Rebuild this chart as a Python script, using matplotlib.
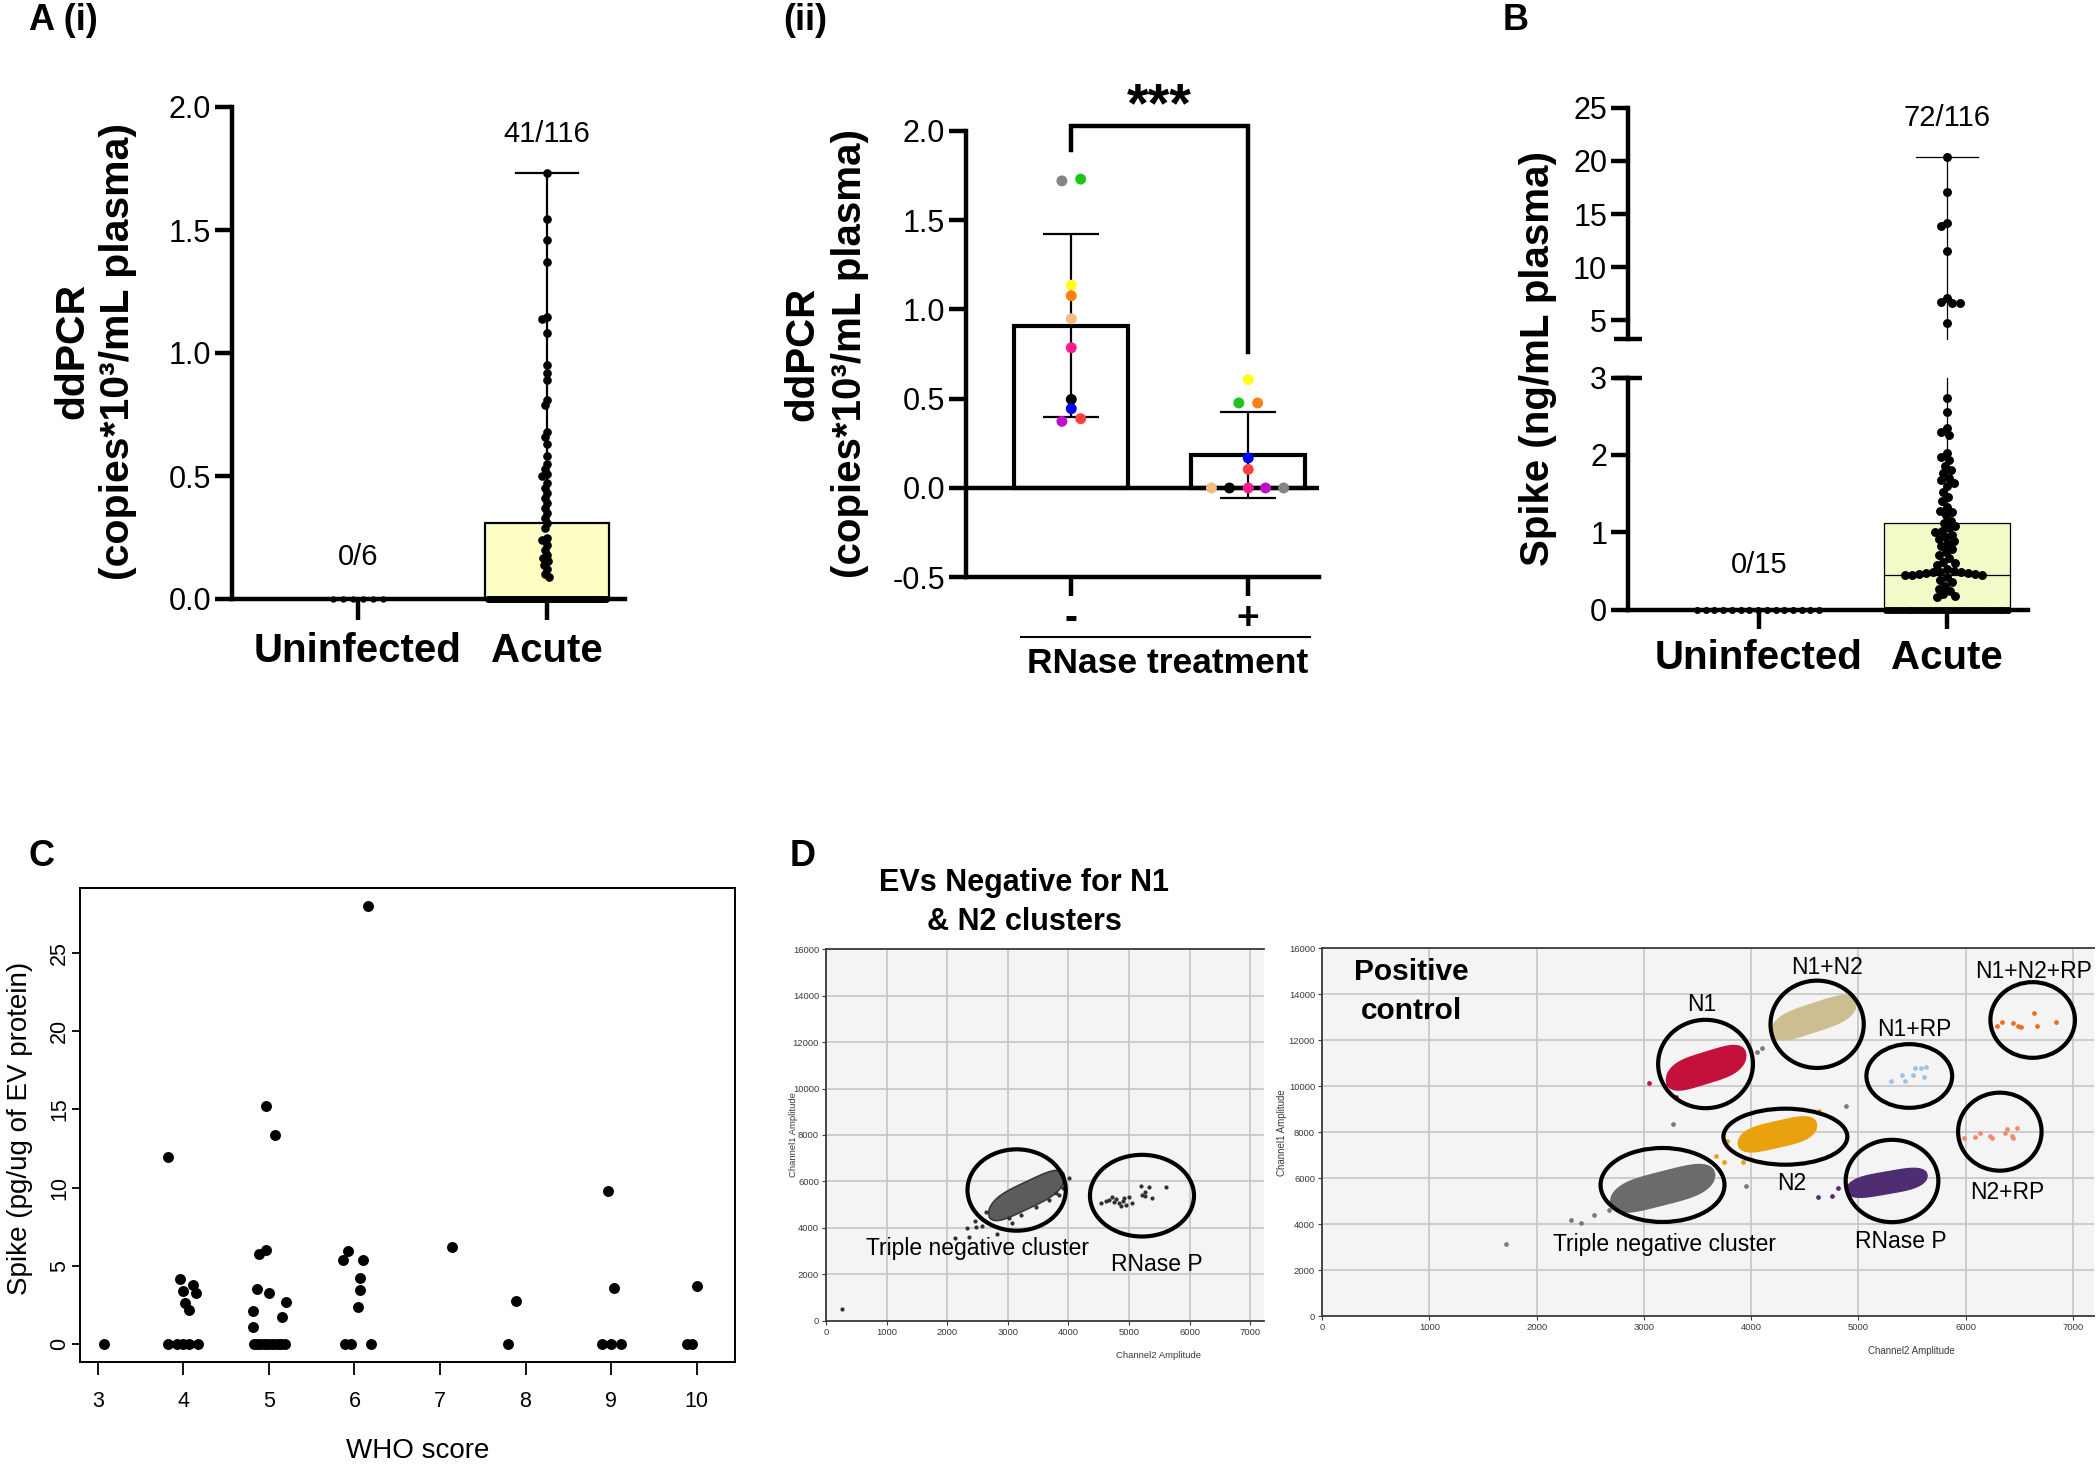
import numpy as np
import matplotlib
matplotlib.use("Agg")
import matplotlib.pyplot as plt
from matplotlib.patches import Ellipse, Polygon
from matplotlib import font_manager as fm

# ======================= DATA =======================
# ---- Panel A(i): ddPCR in plasma ----
ai_categories = ["Uninfected", "Acute"]
ai_uninfected = [0, 0, 0, 0, 0, 0]
ai_acute_nonzero = [1.73, 1.545, 1.46, 1.37, 1.145, 1.14, 1.08, 0.95, 0.92, 0.89,
                    0.81, 0.79, 0.68, 0.66, 0.63, 0.58, 0.55, 0.53, 0.51, 0.50,
                    0.47, 0.45, 0.43, 0.41, 0.39, 0.37, 0.35, 0.33, 0.31, 0.29,
                    0.25, 0.24, 0.22, 0.20, 0.18, 0.165, 0.155, 0.14, 0.12, 0.10, 0.09]
ai_acute_zero = [0] * 75
ai_box_q3 = 0.31
ai_whisker_top = 1.73
ai_counts = ["0/6", "41/116"]
ai_count_y = [0.171, 1.889]
ai_yticks = [0.0, 0.5, 1.0, 1.5, 2.0]

# ---- Panel A(ii): RNase treatment ----
aii_ticklabels = ["-", "+"]
aii_donor_colors = ["#858585", "#1DC41D", "#FFFF1A", "#FF7F10", "#F3BC86",
                    "#FF1C8C", "#000000", "#0000FF", "#C010C8", "#FF4040"]
aii_without_rnase = [1.719, 1.729, 1.135, 1.076, 0.947, 0.785, 0.496, 0.444, 0.373, 0.388]
aii_with_rnase = [0.0, 0.476, 0.607, 0.476, 0.0, 0.0, 0.0, 0.168, 0.0, 0.104]
aii_bracket_y = [1.89, 2.025, 2.025, 0.76]
aii_significance = "***"
aii_yticks = [-0.5, 0.0, 0.5, 1.0, 1.5, 2.0]

# ---- Panel B: Spike in plasma ----
b_categories = ["Uninfected", "Acute"]
b_uninfected = [0] * 15
b_acute_nonzero = [20.4, 17.1, 14.2, 13.9, 11.5, 7.1, 6.7, 6.65, 6.6, 4.8,
                   2.73, 2.56, 2.35, 2.30, 2.26, 2.02, 1.97, 1.93, 1.85, 1.80,
                   1.76, 1.70, 1.67, 1.64, 1.60, 1.52, 1.45, 1.40, 1.32, 1.28,
                   1.26, 1.22, 1.15, 1.12, 1.08, 1.05, 1.02, 1.00, 0.97, 0.94,
                   0.91, 0.88, 0.85, 0.82, 0.78, 0.74, 0.70, 0.66, 0.62, 0.60,
                   0.57, 0.53, 0.50, 0.49, 0.48, 0.48, 0.47, 0.47, 0.46, 0.46,
                   0.45, 0.45, 0.44, 0.42, 0.38, 0.35, 0.31, 0.27, 0.24, 0.20,
                   0.18, 0.16]
b_acute_zero = [0] * 44
b_box_median = 0.45
b_box_q3 = 1.12
b_whisker_top = 20.4
b_counts = ["0/15", "72/116"]
b_break = [3.0, 3.27]
b_yticks_low = [0, 1, 2, 3]
b_yticks_high = [5, 10, 15, 20, 25]

# ---- Panel C: Spike vs WHO score ----
c_who = [3.07, 3.82, 3.96, 3.99, 4.11, 4.15, 4.02, 4.06, 3.82, 3.92, 4.00, 4.07, 4.17,
         4.97, 5.07, 4.97, 4.88, 4.86, 5.00, 5.20, 4.81, 5.15, 4.81,
         4.82, 4.86, 4.90, 4.94, 4.98, 5.02, 5.06, 5.10, 5.14, 5.19,
         6.16, 5.92, 5.86, 6.10, 6.06, 6.06, 6.04, 5.89, 5.96, 6.19,
         7.14, 7.89, 7.80, 8.97, 9.03, 8.89, 9.00, 9.12, 10.01, 9.89, 9.95]
c_spike = [0, 11.99, 4.15, 3.43, 3.76, 3.25, 2.65, 2.21, 0, 0, 0, 0, 0,
           15.24, 13.37, 6.05, 5.76, 3.50, 3.30, 2.73, 2.15, 1.74, 1.12,
           0, 0, 0, 0, 0, 0, 0, 0, 0, 0,
           27.96, 5.97, 5.40, 5.37, 4.23, 3.45, 2.39, 0, 0, 0,
           6.23, 2.78, 0, 9.79, 3.58, 0, 0, 0, 3.69, 0, 0]
c_xticks = [3, 4, 5, 6, 7, 8, 9, 10]
c_yticks = [0, 5, 10, 15, 20, 25]

# ---- Panel D (left): EVs negative ----
dl_gate_labels = ["Triple negative cluster", "RNase P"]
dl_gate_cx = [3145, 5213]
dl_gate_cy = [5630, 5386]
dl_gate_w = [1622, 1716]
dl_gate_h = [3505, 3519]
dl_label_x = [2502, 5460]
dl_label_y = [3117, 2427]
dl_cluster_ends = [(2680, 4620, 3940, 6170)]
dl_cluster_half = [600]
dl_cluster_colors = ["#5C5C5C"]
dl_drop_x = [264, 2128, 2321, 2365, 2464, 2574, 2815, 2640, 2475, 4014, 3904, 3068,
             3849, 3794, 3024, 3217, 3464, 3684,
             4537, 4619, 4674, 4718, 4784, 4839, 4867, 4894, 4922, 5004, 5048, 5197,
             5213, 5268, 5323, 5268, 5378, 5609, 4757, 4949]
dl_drop_y = [488, 3548, 3979, 3619, 4309, 4079, 3734, 4697, 4050, 6133, 5702, 4194,
             5415, 5487, 4409, 4553, 4912, 5199,
             5056, 5156, 5199, 5314, 5228, 5056, 4941, 5171, 5300, 5343, 5056, 5803,
             5415, 5559, 5745, 5372, 5271, 5745, 5128, 4984]

# ---- Panel D (right): positive control ----
dr_gate_labels = ["N1", "N1+N2", "N1+RP", "N1+N2+RP", "N2", "N2+RP", "RNase P",
                  "Triple negative cluster"]
dr_gate_cx = [3575, 4615, 5474, 6624, 4319, 6318, 5313, 3174]
dr_gate_cy = [10966, 12693, 10444, 12881, 7803, 8021, 5875, 5701]
dr_gate_w = [884, 869, 799, 788, 1155, 778, 864, 1155]
dr_gate_h = [3844, 3800, 2771, 3293, 2437, 3394, 3583, 3220]
dr_label_x = [3540, 4705, 5524, 6628, 4379, 6387, 5398, 3189]
dr_label_y = [13534, 15158, 12446, 14985, 5773, 5367, 3235, 3090]
dr_cluster_ends = [(2690, 4980, 3660, 6130), (3210, 10270, 3950, 11330),
                   (4190, 12380, 4980, 13580), (3880, 7520, 4610, 8290),
                   (4890, 5490, 5640, 6100)]
dr_cluster_half = [720, 680, 620, 560, 470]
dr_cluster_colors = ["#6B6B6B", "#C3113C", "#CDBE92", "#E9A20E", "#4F2D73"]
dr_drop_groups = [
    ("#7A7A7A", [1718, 2320, 2412, 2533, 2674, 3274, 3952, 4103, 4053, 4882],
                [3133, 4177, 4061, 4394, 4612, 8358, 5636, 11652, 11507, 9135]),
    ("#E9A20E", [4631, 3675, 3750, 3926, 3775], [8938, 6962, 6716, 6716, 7603]),
    ("#4F2D73", [4621, 4757, 4807, 5610], [5163, 5221, 5554, 5989]),
    ("#C3113C", [3048, 3199, 3299], [10153, 10008, 9545]),
    ("#9DC3E6", [5308, 5408, 5433, 5509, 5584, 5609, 5634, 5524],
                [10241, 10488, 10227, 10488, 10778, 10415, 10851, 10807]),
    ("#F26B21", [6287, 6337, 6437, 6488, 6513, 6638, 6664, 6839],
                [12621, 12809, 12736, 12621, 12591, 13171, 12621, 12809]),
    ("#F4896B", [5986, 6086, 6137, 6227, 6247, 6362, 6387, 6438, 6479, 6428],
                [7733, 7806, 7980, 7835, 7733, 7951, 8125, 7733, 8168, 7835]),
]
dd_xticks = [0, 1000, 2000, 3000, 4000, 5000, 6000, 7000]
dd_yticks = [0, 2000, 4000, 6000, 8000, 10000, 12000, 14000, 16000]

# ======================= STYLE / LAYOUT =======================
plt.rcParams["font.family"] = ["Liberation Sans", "DejaVu Sans"]
_names = {f.name for f in fm.fontManager.ttflist}
NARROW = ["Liberation Sans Narrow", "Liberation Sans"] if "Liberation Sans Narrow" in _names else ["Liberation Sans"]

W, H = 2100, 1469
fig = plt.figure(figsize=(W / 100, H / 100), dpi=100)
fig.patch.set_facecolor("white")


def add_ax(l, t, r, b):
    return fig.add_axes([l / W, 1 - b / H, (r - l) / W, (b - t) / H])


def ftext(x, y, s, **kw):
    fig.text(x / W, 1 - y / H, s, **kw)


def swarm(ax, center, values, d):
    T = ax.transData
    vals = np.asarray(values, float)
    n = len(vals)
    pts = T.transform(np.column_stack([np.full(n, float(center)), vals]))
    xc = pts[0, 0]
    out = np.zeros(n)
    placed = []
    for i in np.argsort(-pts[:, 1]):
        y = pts[i, 1]
        near = [(px, py) for px, py in placed if abs(py - y) < d]
        cands = [xc]
        for px, py in near:
            dx = np.sqrt(d * d - (py - y) ** 2)
            cands += [px - dx, px + dx]
        cands.sort(key=lambda c: abs(c - xc))
        chosen = cands[-1]
        for c in cands:
            if all((c - px) ** 2 + (y - py) ** 2 >= d * d - 1e-6 for px, py in near):
                chosen = c
                break
        placed.append((chosen, y))
        out[i] = chosen
    return T.inverted().transform(np.column_stack([out, pts[:, 1]]))[:, 0]


def blob(x0, y0, x1, y1, half, n=90):
    t = np.linspace(-1, 1, n)
    cx = (x0 + x1) / 2 + t * (x1 - x0) / 2
    cy = (y0 + y1) / 2 + t * (y1 - y0) / 2
    w = half * np.sqrt(np.clip(1 - t ** 4, 0, None))
    xs = np.concatenate([cx, cx[::-1]])
    ys = np.concatenate([cy + w, (cy - w)[::-1]])
    return np.column_stack([xs, ys])


SPW = 3.2  # thick prism-style spines
TICKFS = 22

# ======================= PANEL A(i) =======================
ax = add_ax(232, 107, 625, 599)
ax.set_xlim(-0.667, 1.413)
ax.set_ylim(0, 2.0)
for s in ["top", "right"]:
    ax.spines[s].set_visible(False)
for s in ["left", "bottom"]:
    ax.spines[s].set_linewidth(SPW)
ax.bar(1, ai_box_q3, width=0.655, bottom=0, color="#FFFFC5", edgecolor="black", lw=1.6, zorder=2)
ax.plot([1, 1], [ai_box_q3, ai_whisker_top], color="black", lw=1.6, zorder=3)
ax.plot([0.835, 1.165], [ai_whisker_top] * 2, color="black", lw=1.6, zorder=3)
ax.plot(1 + np.linspace(-0.31, 0.31, len(ai_acute_zero)), ai_acute_zero, "o", ms=4,
        color="black", clip_on=False, zorder=4)
ax.plot(0 + np.linspace(-0.13, 0.13, len(ai_uninfected)), ai_uninfected, "o", ms=3.6,
        color="black", clip_on=False, zorder=4)
xs = swarm(ax, 1, ai_acute_nonzero, 5.5)
ax.plot(xs, ai_acute_nonzero, "o", ms=5.2, color="black", zorder=5, clip_on=False)
for i, t in enumerate(ai_counts):
    ax.text(i, ai_count_y[i], t, ha="center", va="center", fontsize=21)
ax.set_yticks(ai_yticks, [f"{v:.1f}" for v in ai_yticks])
ax.tick_params(axis="y", length=12, width=SPW, labelsize=TICKFS, pad=3)
ax.set_xticks([0, 1], ai_categories, fontsize=29, fontweight="bold")
ax.tick_params(axis="x", length=15, width=SPW, pad=9)
ftext(72, 351, "ddPCR", rotation=90, ha="center", va="center", fontsize=29.5, fontweight="bold")
ftext(118, 351, "(copies*10³/mL plasma)", rotation=90, ha="center", va="center",
      fontsize=29.5, fontweight="bold")
ftext(29, 20, "A (i)", ha="left", va="center", fontsize=26, fontweight="bold")

# ======================= PANEL A(ii) =======================
ax = add_ax(966, 130.7, 1319, 577.3)
ax.set_xlim(-0.595, 1.40)
ax.set_ylim(-0.5, 2.0)
for s in ["top", "right"]:
    ax.spines[s].set_visible(False)
for s in ["left", "bottom"]:
    ax.spines[s].set_linewidth(SPW)
groups = [aii_without_rnase, aii_with_rnase]
means = [np.mean(g) for g in groups]
sds = [np.std(g, ddof=1) for g in groups]
ax.bar([0, 1], means, width=0.646, color="white", edgecolor="black", lw=3.0, zorder=2)
ax.axhline(0, color="black", lw=SPW, zorder=3)
ax.errorbar([0, 1], means, yerr=sds, fmt="none", ecolor="black", elinewidth=1.6,
            capsize=20, capthick=1.6, zorder=4)
offs = [[-0.053, 0.053, 0, 0, 0, 0, 0, 0, -0.053, 0.053],
        [0.2, -0.053, 0, 0.053, -0.208, 0, -0.106, 0, 0.098, 0]]
for gi, g in enumerate(groups):
    ax.scatter(gi + np.array(offs[gi]), g, c=aii_donor_colors, s=62, zorder=5,
               linewidths=0, clip_on=False)
ax.plot([0, 0, 1, 1], aii_bracket_y, color="black", lw=SPW, clip_on=False,
        solid_joinstyle="miter", zorder=3)
ax.text(0.5, 2.13, aii_significance, ha="center", va="center", fontsize=40,
        fontweight="bold", clip_on=False)
ax.set_yticks(aii_yticks, [f"{v:.1f}" for v in aii_yticks])
ax.tick_params(axis="y", length=12, width=SPW, labelsize=TICKFS, pad=3)
ax.set_xticks([0, 1], aii_ticklabels, fontsize=28, fontweight="bold")
ax.tick_params(axis="x", length=14, width=SPW, pad=3)
ax.plot([-0.286, 1.35], [-0.835, -0.835], color="black", lw=1.5, clip_on=False)
ax.text(0.545, -0.985, "RNase treatment", ha="center", va="center", fontsize=25.5,
        fontweight="bold", clip_on=False)
ftext(802, 354, "ddPCR", rotation=90, ha="center", va="center", fontsize=29, fontweight="bold")
ftext(850, 354, "(copies*10³/mL plasma)", rotation=90, ha="center", va="center",
      fontsize=29, fontweight="bold")
ftext(783, 20, "(ii)", ha="left", va="center", fontsize=26, fontweight="bold")

# ======================= PANEL B =======================
axt = add_ax(1628, 107.8, 2028, 338.8)
axb = add_ax(1628, 377.6, 2028, 609.5)
for a in (axt, axb):
    a.set_xlim(-0.697, 1.431)
    a.patch.set_alpha(0)
axt.set_ylim(b_break[1], 25)
axb.set_ylim(0, b_break[0])
for s in ["top", "right", "bottom"]:
    axt.spines[s].set_visible(False)
for s in ["top", "right"]:
    axb.spines[s].set_visible(False)
axt.spines["left"].set_linewidth(SPW)
axb.spines["left"].set_linewidth(SPW)
axb.spines["bottom"].set_linewidth(SPW)
axt.set_xticks([])
axb.bar(1, b_box_q3, width=0.667, color="#F2FBC8", edgecolor="black", lw=0.9, zorder=2)
axb.plot([1 - 0.333, 1 + 0.333], [b_box_median] * 2, color="black", lw=0.9, zorder=3)
axb.plot([1, 1], [b_box_q3, b_break[0]], color="black", lw=0.9, zorder=3, clip_on=False)
axt.plot([1, 1], [b_break[1], b_whisker_top], color="black", lw=0.9, zorder=3, clip_on=False)
axt.plot([0.835, 1.165], [b_whisker_top] * 2, color="black", lw=0.9, zorder=3)
low = [v for v in b_acute_nonzero if v <= b_break[0]]
high = [v for v in b_acute_nonzero if v > b_break[0]]
axb.plot(swarm(axb, 1, low, 7.2), low, "o", ms=5.4, color="black", zorder=5, clip_on=False)
axt.plot(swarm(axt, 1, high, 7.2), high, "o", ms=5.4, color="black", zorder=5, clip_on=False)
axb.plot(1 + np.linspace(-0.325, 0.325, len(b_acute_zero)), b_acute_zero, "o", ms=4,
         color="black", clip_on=False, zorder=4)
axb.plot(0 + np.linspace(-0.33, 0.32, len(b_uninfected)), b_uninfected, "o", ms=4,
         color="black", clip_on=False, zorder=4)
axt.plot([-0.035, 0.035], [b_break[1]] * 2, transform=axt.get_yaxis_transform(),
         color="black", lw=SPW, clip_on=False, solid_capstyle="butt")
axb.plot([-0.035, 0.035], [b_break[0]] * 2, transform=axb.get_yaxis_transform(),
         color="black", lw=SPW, clip_on=False, solid_capstyle="butt")
axt.set_yticks(b_yticks_high)
axb.set_yticks(b_yticks_low)
for a in (axt, axb):
    a.tick_params(axis="y", length=12, width=SPW, labelsize=TICKFS, pad=3)
axb.set_xticks([0, 1], b_categories, fontsize=29, fontweight="bold")
axb.tick_params(axis="x", length=14, width=SPW, pad=7)
axt.text(1, 24.0, b_counts[1], ha="center", va="center", fontsize=21, clip_on=False)
axb.text(0, 0.58, b_counts[0], ha="center", va="center", fontsize=21, clip_on=False)
ftext(1538, 358.6, "Spike (ng/mL plasma)", rotation=90, ha="center", va="center",
      fontsize=29, fontweight="bold")
ftext(1503, 20, "B", ha="left", va="center", fontsize=26, fontweight="bold")

# ======================= PANEL C =======================
ax = add_ax(80, 888.3, 735, 1361.8)
ax.set_xlim(2.79, 10.45)
ax.set_ylim(-1.12, 29.12)
for s in ax.spines.values():
    s.set_linewidth(1.4)
ax.scatter(c_who, c_spike, s=62, color="black", linewidths=0, zorder=3)
ax.set_xticks(c_xticks, [str(v) for v in c_xticks])
ax.set_yticks(c_yticks, [str(v) for v in c_yticks])
ax.tick_params(axis="both", width=1.3, labelsize=15.5)
ax.tick_params(axis="x", length=9, pad=12)
ax.tick_params(axis="y", length=6, pad=1)
for lbl in ax.get_yticklabels():
    lbl.set_rotation(90)
    lbl.set_va("center")
ftext(418, 1451, "WHO score", ha="center", va="center", fontsize=20)
ftext(20, 1128, "Spike (pg/ug of EV protein)", rotation=90, ha="center", va="center", fontsize=20)
ftext(29, 857, "C", ha="left", va="center", fontsize=26, fontweight="bold")


# ======================= PANEL D =======================
def style_dd(ax, xmax):
    ax.set_facecolor("#F4F4F4")
    ax.set_xlim(0, xmax)
    ax.set_ylim(0, 16000)
    ax.set_xticks(dd_xticks, [str(v) for v in dd_xticks], family=NARROW)
    ax.set_yticks(dd_yticks, [str(v) for v in dd_yticks], family=NARROW)
    ax.grid(True, color="#C6C6C6", lw=1.2)
    ax.set_axisbelow(True)
    ax.spines["right"].set_visible(False)
    for s in ["left", "bottom", "top"]:
        ax.spines[s].set_color("#3A3A3A")
        ax.spines[s].set_linewidth(1.3)
    ax.tick_params(labelsize=6.8, length=3, width=0.8, colors="#3A3A3A", pad=2)


# left
ax = add_ax(826, 949.3, 1264.3, 1320.7)
style_dd(ax, 7231)
for (x0, y0, x1, y1), hf, col in zip(dl_cluster_ends, dl_cluster_half, dl_cluster_colors):
    ax.add_patch(Polygon(blob(x0, y0, x1, y1, hf), closed=True, fc=col, ec="#3A3A3A",
                         lw=1.2, zorder=3))
ax.plot(dl_drop_x, dl_drop_y, "o", ms=2.0, color="#303030", zorder=4, lw=0)
for cx, cy, w, h in zip(dl_gate_cx, dl_gate_cy, dl_gate_w, dl_gate_h):
    ax.add_patch(Ellipse((cx, cy), w, h, fill=False, ec="black", lw=3, zorder=6))
for t, x, y in zip(dl_gate_labels, dl_label_x, dl_label_y):
    ax.text(x, y, t, ha="center", va="center", fontsize=16.5, zorder=7)
ftext(1024, 883, "EVs Negative for N1", ha="center", va="center", fontsize=22, fontweight="bold")
ftext(1024, 922, "& N2 clusters", ha="center", va="center", fontsize=22, fontweight="bold")
ftext(794, 1135, "Channel1 Amplitude", rotation=90, ha="center", va="center", fontsize=6.8,
      family=NARROW, color="#3A3A3A")
ftext(1158, 1355, "Channel2 Amplitude", ha="center", va="center", fontsize=6.8,
      family=NARROW, color="#3A3A3A")
ftext(790, 857, "D", ha="left", va="center", fontsize=26, fontweight="bold")

# right
ax = add_ax(1322, 948.3, 2093.5, 1316)
style_dd(ax, 7191)
for (x0, y0, x1, y1), hf, col in zip(dr_cluster_ends, dr_cluster_half, dr_cluster_colors):
    ax.add_patch(Polygon(blob(x0, y0, x1, y1, hf), closed=True, fc=col, ec=col, lw=1.2, zorder=3))
for col, xs_, ys_ in dr_drop_groups:
    ax.plot(xs_, ys_, "o", ms=2.4, color=col, zorder=4, lw=0)
for cx, cy, w, h in zip(dr_gate_cx, dr_gate_cy, dr_gate_w, dr_gate_h):
    ax.add_patch(Ellipse((cx, cy), w, h, fill=False, ec="black", lw=3, zorder=6))
for t, x, y in zip(dr_gate_labels, dr_label_x, dr_label_y):
    ax.text(x, y, t, ha="center", va="center", fontsize=16.5, zorder=7)
ax.text(300, 14985, "Positive", ha="left", va="center", fontsize=21.5, fontweight="bold", zorder=7)
ax.text(360, 13287, "control", ha="left", va="center", fontsize=21.5, fontweight="bold", zorder=7)
ftext(1282, 1133, "Channel1 Amplitude", rotation=90, ha="center", va="center", fontsize=7,
      family=NARROW, color="#3A3A3A")
ftext(1911, 1351, "Channel2 Amplitude", ha="center", va="center", fontsize=7,
      family=NARROW, color="#3A3A3A")

fig.savefig("out.png", dpi=100, facecolor="white")
